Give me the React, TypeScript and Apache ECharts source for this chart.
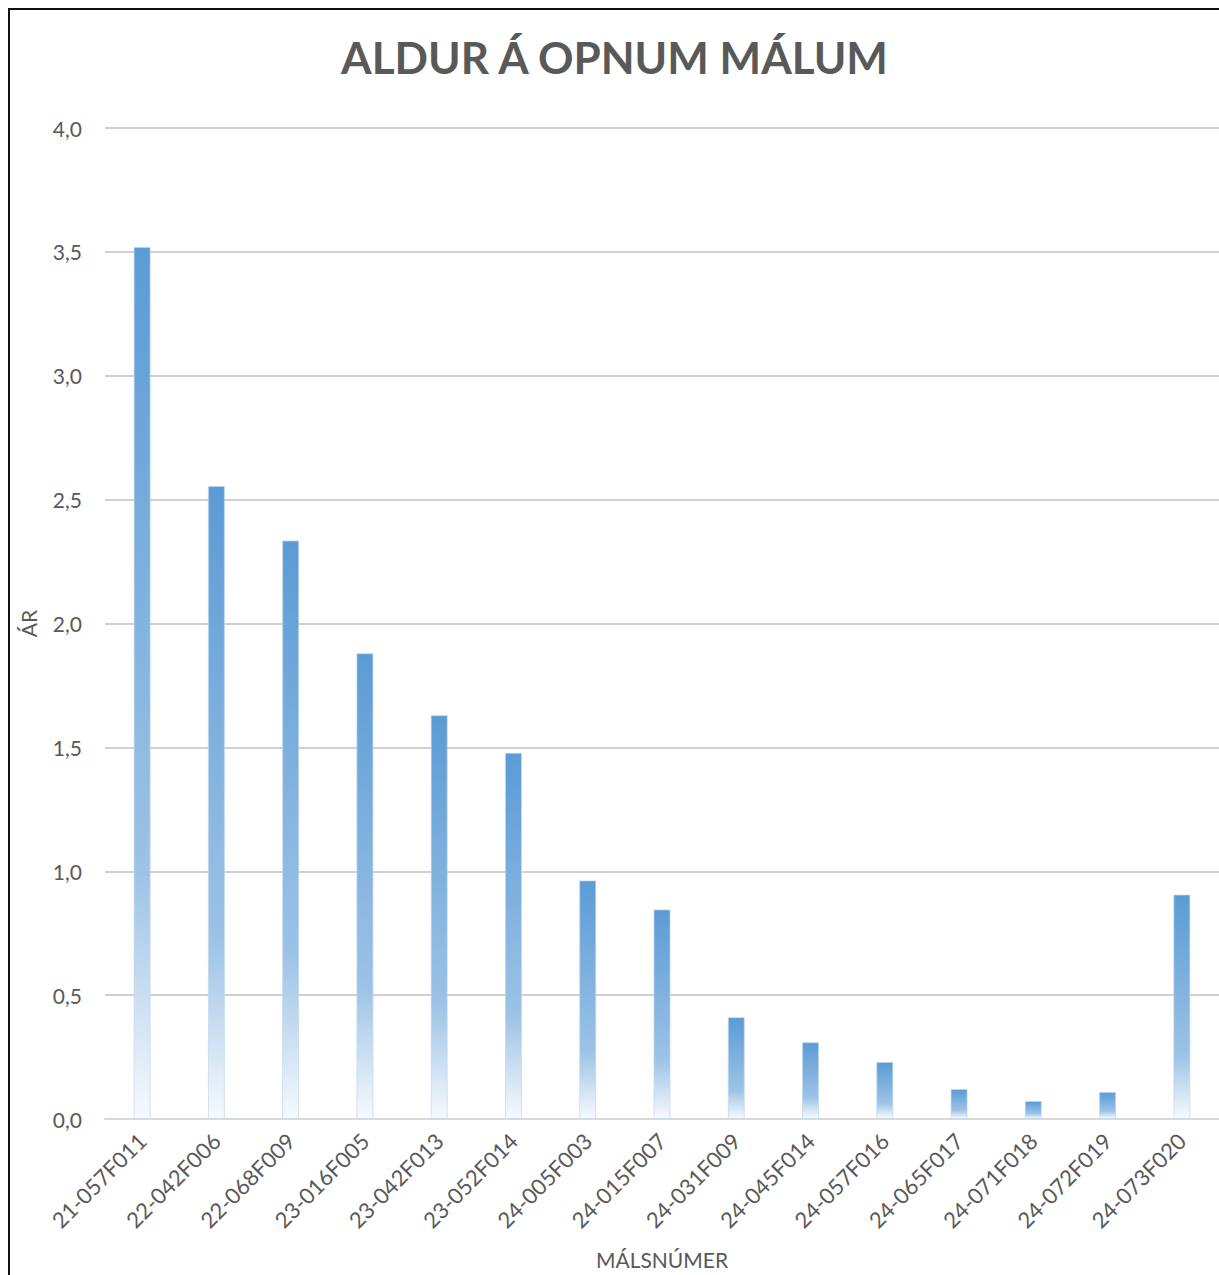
import React, { useEffect, useRef } from "react";
import * as echarts from "echarts";

const categories = [
  "21-057F011", "22-042F006", "22-068F009", "23-016F005", "23-042F013",
  "23-052F014", "24-005F003", "24-015F007", "24-031F009", "24-045F014",
  "24-057F016", "24-065F017", "24-071F018", "24-072F019", "24-073F020",
];
const values = [3.52, 2.555, 2.335, 1.88, 1.63, 1.478, 0.963, 0.846, 0.411, 0.31, 0.23, 0.121, 0.073, 0.109, 0.906];
const titleText = "ALDUR Á OPNUM MÁLUM";
const yAxisName = "ÁR";
const xAxisName = "MÁLSNÚMER";

const FONT = "Lato, 'Open Sans', sans-serif";
const GREY = "#595959";

export default function App() {
  const ref = useRef<HTMLDivElement>(null);
  useEffect(() => {
    if (!ref.current) return;
    const chart = echarts.init(ref.current, undefined, { renderer: "svg" });
    chart.setOption({
      animation: false,
      backgroundColor: "#ffffff",
      textStyle: { fontFamily: FONT },
      title: {
        text: titleText,
        left: "center",
        top: 20,
        textStyle: { fontFamily: FONT, fontSize: 44, fontWeight: "bold", color: GREY },
      },
      grid: { left: 94, right: 0, top: 118, bottom: 149, containLabel: false },
      xAxis: {
        type: "category",
        data: categories,
        name: xAxisName,
        nameLocation: "middle",
        nameGap: 130,
        nameTextStyle: { fontFamily: FONT, fontSize: 21, color: GREY },
        axisLine: { show: true, lineStyle: { color: "#d9d9d9", width: 2 } },
        axisTick: { show: false },
        axisLabel: { rotate: 45, fontFamily: FONT, fontSize: 22, color: GREY, margin: 18, interval: 0 },
      },
      yAxis: {
        type: "value",
        min: 0,
        max: 4,
        interval: 0.5,
        name: yAxisName,
        nameLocation: "middle",
        nameGap: 66,
        nameTextStyle: { fontFamily: FONT, fontSize: 21, color: GREY },
        axisLine: { show: false },
        axisTick: { show: false },
        axisLabel: {
          fontFamily: FONT,
          fontSize: 21,
          color: GREY,
          margin: 23,
          formatter: (v: number) => v.toFixed(1).replace(".", ","),
        },
        splitLine: { lineStyle: { color: "#d0d0d0", width: 2 } },
      },
      series: [
        {
          type: "bar",
          data: values,
          barWidth: 17,
          itemStyle: {
            color: new echarts.graphic.LinearGradient(0, 0, 0, 1, [
              { offset: 0, color: "#5b9bd5" },
              { offset: 0.72, color: "#9dc3e6" },
              { offset: 1, color: "#f7fafd" },
            ]),
            borderColor: "rgba(189,215,238,0.7)",
            borderWidth: 1,
          },
        },
      ],
    });
    return () => chart.dispose();
  }, []);
  return (
    <div
      style={{
        position: "fixed",
        left: 8,
        top: 8,
        width: 1211,
        height: 1267,
        borderLeft: "2px solid #111",
        borderTop: "2px solid #111",
        boxSizing: "border-box",
        overflow: "hidden",
        background: "#fff",
      }}
    >
      <div ref={ref} style={{ width: 1209, height: 1265 }} />
    </div>
  );
}
